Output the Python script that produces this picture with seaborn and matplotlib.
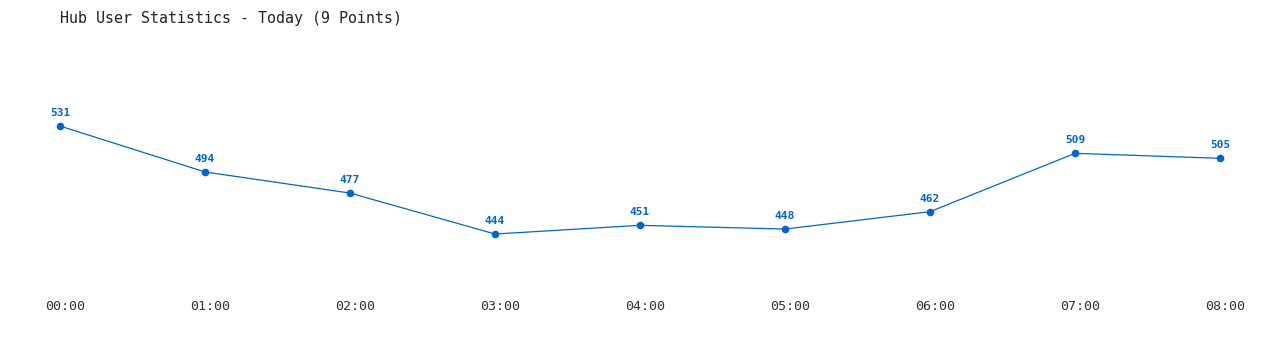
import matplotlib
matplotlib.use("Agg")
import matplotlib.pyplot as plt
import matplotlib.transforms as mtransforms
import seaborn as sns
import pandas as pd

times = ["00:00", "01:00", "02:00", "03:00", "04:00", "05:00", "06:00", "07:00", "08:00"]
users = [531, 494, 477, 444, 451, 448, 462, 509, 505]
title = "Hub User Statistics - Today (9 Points)"

sns.set_theme(style="white")
plt.rcParams['font.family'] = ['DejaVu Sans Mono', 'DejaVu Sans']

df = pd.DataFrame({"idx": range(len(times)), "users": users})

fig = plt.figure(figsize=(12.8, 3.5), dpi=100)
ax = fig.add_axes([60/1280, 60/350, 1160/1280, 230/350])
blue = "#0066cc"
sns.lineplot(data=df, x="idx", y="users", ax=ax, color=blue, linewidth=0.9,
             marker="o", markersize=5.5, markeredgewidth=0, markerfacecolor=blue)
for ln in ax.lines:
    ln.set_clip_on(False)
ax.set_xlim(0, 8)
ax.set_ylim(398.9, 584.2)
for i, v in enumerate(users):
    ax.annotate(str(v), (i, v), xytext=(0, 13), textcoords="offset pixels",
                ha="center", va="center", fontsize=8, fontweight="bold", color=blue)
ax.set_xticks(range(len(times)))
ax.set_xticklabels(times, fontsize=9.6, color="#333333")
ax.tick_params(axis="x", length=0, pad=7)
ax.set_yticks([])
ax.set_xlabel("")
ax.set_ylabel("")
for s in ax.spines.values():
    s.set_visible(False)
fig.text(60/1280, 1 - 18/350, title, fontsize=10.8, color="#222222",
         ha="left", va="center")
fig.canvas.draw()
offset = mtransforms.ScaledTranslation(5/100, 0, fig.dpi_scale_trans)
for tick in ax.xaxis.get_major_ticks():
    tick.label1.set_transform(tick.label1.get_transform() + offset)
fig.savefig("out.png", dpi=100, facecolor="white")
